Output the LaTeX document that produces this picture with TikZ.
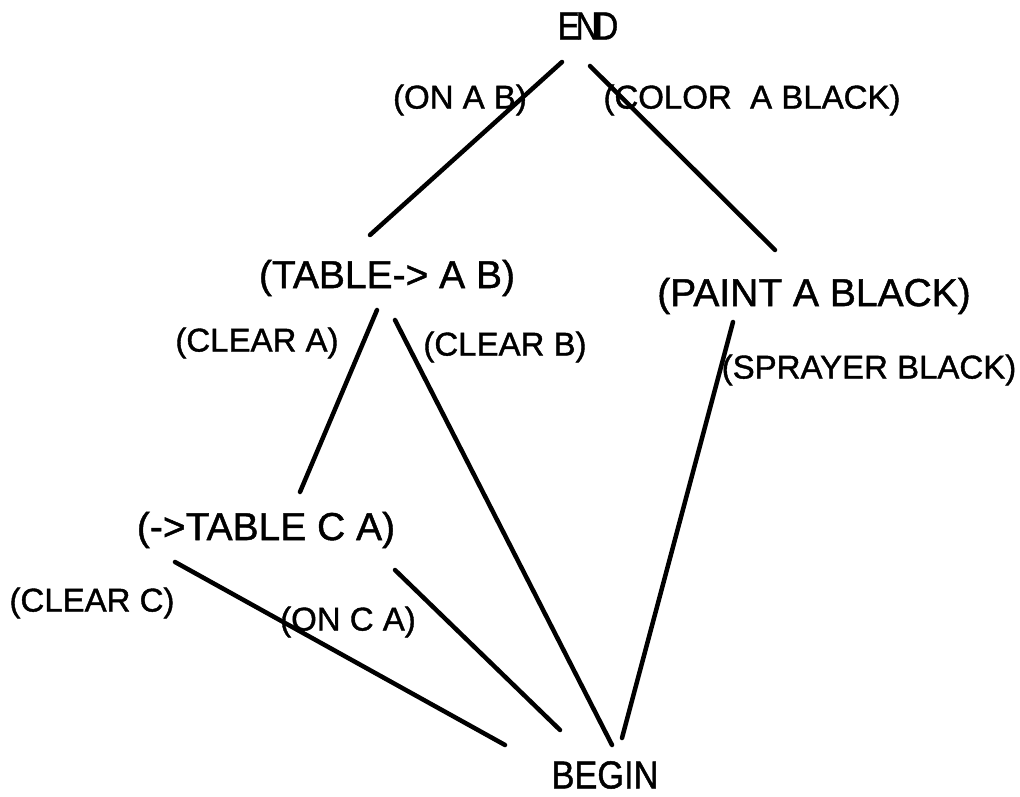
\documentclass[tikz,border=0pt]{standalone}
\usepackage{fontspec}
\setmainfont{Liberation Sans}
\newfontfamily\labelfont[FakeBold=1.2]{Liberation Sans}
\begin{document}
\begin{tikzpicture}[x=1pt,y=-1pt,
  big/.style={font=\labelfont\fontsize{39}{39}\selectfont, inner sep=0pt},
  small/.style={font=\labelfont\fontsize{33}{33}\selectfont, inner sep=0pt},
  edge/.style={line width=4.5pt, line cap=round}]
\fill[white] (0,0) rectangle (1020,797);
\useasboundingbox (0,0) rectangle (1020,797);

% plan steps
\node[big] (end) at (588,26) {\scalebox{0.85}[1]{E\kern-5pt N\kern-6pt D}};
\node[big] (tab) at (387,278) {(TABLE-> A B)};
\node[big] (paint) at (814,296) {(PAINT A BLACK)};
\node[big] (tabc) at (266,530) {(->TABLE C A)};
\node[big] (begin) at (605,775) {\scalebox{0.88}[1]{BEGIN}};

% conditions
\node[small] (onab) at (460,100) {(ON A B)};
\node[small] (color) at (752,100) {(COLOR\ \ A BLACK)};
\node[small] (cla) at (257,343) {(CLEAR A)};
\node[small] (clb) at (505,347) {(CLEAR B)};
\node[small] (spray) at (869,370) {(SPRAYER BLACK)};
\node[small] (clc) at (92,603) {(CLEAR C)};
\node[small] (onca) at (348,622) {(ON C A)};

% link end points
\coordinate (end-l) at (562,62);
\coordinate (end-r) at (590,66);
\coordinate (tab-t) at (370,235);
\coordinate (tab-bl) at (377,310);
\coordinate (tab-br) at (395,320);
\coordinate (paint-t) at (775,250);
\coordinate (paint-b) at (733,322);
\coordinate (tabc-t) at (300,492);
\coordinate (tabc-bl) at (175,562);
\coordinate (tabc-br) at (395,570);
\coordinate (begin-a) at (505,745);
\coordinate (begin-b) at (560,730);
\coordinate (begin-c) at (612,745);
\coordinate (begin-d) at (622,738);

% causal links
\draw[edge] (end-l) -- (tab-t);
\draw[edge] (end-r) -- (paint-t);
\draw[edge] (tab-bl) -- (tabc-t);
\draw[edge] (tab-br) -- (begin-c);
\draw[edge] (paint-b) -- (begin-d);
\draw[edge] (tabc-bl) -- (begin-a);
\draw[edge] (tabc-br) -- (begin-b);
\end{tikzpicture}
\end{document}
